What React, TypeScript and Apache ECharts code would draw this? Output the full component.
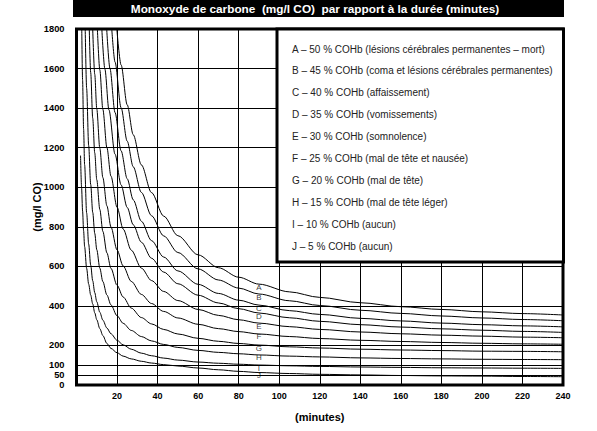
import React, { useEffect, useRef } from "react";
import * as echarts from "echarts";

const titleText = "Monoxyde de carbone  (mg/l CO)  par rapport à la durée (minutes)";
const yAxisName = "(mg/l CO)";
const xAxisName = "(minutes)";
const yTickValues = [0, 50, 100, 200, 400, 600, 800, 1000, 1200, 1400, 1600, 1800];
const xMin = 0;
const xMax = 240;
const xInterval = 20;

const curveLetters = ["A", "B", "C", "D", "E", "F", "G", "H", "I", "J"];
const legendLines = [
  "A – 50 % COHb (lésions cérébrales permanentes – mort)",
  "B – 45 % COHb (coma et lésions cérébrales permanentes)",
  "C – 40 % COHb (affaissement)",
  "D – 35 % COHb (vomissements)",
  "E – 30 % COHb (somnolence)",
  "F – 25 % COHb (mal de tête et nausée)",
  "G – 20 % COHb (mal de tête)",
  "H – 15 % COHb (mal de tête léger)",
  "I – 10 % COHb (aucun)",
  "J – 5 % COHb (aucun)",
];

// [minutes, mg/l CO]
const curveA = [[19.9, 1800], [22, 1618], [25, 1417], [28, 1265], [32, 1113], [37, 973], [43, 854], [50, 755], [60, 658], [70, 593], [80, 545], [90, 510], [105, 471], [120, 443], [140, 416], [160, 396], [180, 382], [200, 370], [220, 361], [240, 354]];
const curveB = [[17.4, 1800], [19, 1633], [22, 1402], [25, 1233], [28, 1103], [32, 974], [37, 856], [43, 754], [50, 670], [60, 587], [70, 531], [80, 490], [90, 460], [105, 426], [120, 402], [140, 378], [160, 362], [180, 349], [200, 339], [220, 331], [240, 325]];
const curveC = [[14.9, 1800], [16.5, 1600], [19, 1378], [22, 1184], [25, 1043], [28, 936], [32, 828], [37, 730], [43, 647], [50, 577], [60, 509], [70, 463], [80, 429], [90, 404], [105, 376], [120, 357], [140, 337], [160, 324], [180, 313], [200, 305], [220, 299], [240, 294]];
const curveD = [[12.5, 1800], [14, 1597], [16, 1391], [19, 1167], [22, 1012], [25, 898], [28, 810], [32, 722], [37, 641], [43, 571], [50, 512], [60, 454], [70, 415], [80, 386], [90, 364], [105, 340], [120, 322], [140, 305], [160, 293], [180, 284], [200, 277], [220, 271], [240, 266]];
const curveE = [[10.3, 1800], [11.5, 1593], [13, 1394], [15, 1200], [17, 1056], [20, 899], [23, 789], [27, 682], [32, 591], [37, 528], [43, 473], [50, 427], [60, 382], [70, 352], [80, 330], [90, 313], [105, 295], [120, 281], [140, 268], [160, 259], [180, 252], [200, 247], [220, 242], [240, 239]];
const curveF = [[8, 1800], [9, 1571], [10, 1396], [11.5, 1197], [13, 1049], [15, 906], [17, 799], [20, 683], [23, 602], [27, 524], [32, 458], [37, 412], [43, 372], [50, 339], [60, 307], [70, 285], [80, 270], [90, 258], [105, 245], [120, 235], [140, 226], [160, 220], [180, 215], [200, 211], [220, 208], [240, 206]];
const curveG = [[6.3, 1800], [7, 1580], [8, 1349], [9, 1173], [10, 1038], [11.5, 888], [13, 777], [15, 668], [17, 590], [20, 504], [23, 445], [27, 389], [32, 341], [37, 309], [43, 281], [50, 258], [60, 236], [70, 221], [80, 210], [90, 202], [105, 193], [120, 187], [140, 181], [160, 177], [180, 174], [200, 171], [220, 170], [240, 168]];
const curveH = [[4.3, 1800], [5, 1500], [6, 1211], [7, 1014], [8, 873], [9, 767], [10, 684], [11.5, 591], [13, 523], [15, 455], [17, 405], [20, 350], [23, 312], [27, 276], [32, 245], [37, 223], [43, 205], [50, 190], [60, 175], [70, 165], [80, 158], [90, 152], [105, 146], [120, 142], [140, 137], [160, 134], [180, 132], [200, 130], [220, 129], [240, 128]];
const curveI = [[2.6, 1800], [3, 1543], [3.5, 1295], [4, 1114], [5, 870], [6, 713], [7, 606], [8, 527], [9, 467], [10, 421], [11.5, 368], [13, 328], [15, 288], [17, 259], [20, 226], [23, 203], [27, 181], [32, 161], [37, 148], [43, 136], [50, 126], [60, 116], [70, 110], [80, 105], [90, 101], [105, 97], [120, 94], [140, 91], [160, 89], [180, 87], [200, 86], [220, 85], [240, 84]];
const curveJ = [[2, 1160], [2.5, 1000], [3, 880], [3.5, 780], [4, 700], [5, 590], [6, 510], [7, 455], [8, 410], [9, 365], [10, 330], [11.5, 285], [13, 250], [15, 210], [17, 185], [20, 163], [23, 146], [27, 132], [32, 120], [37, 111], [43, 103], [50, 96], [60, 86], [70, 77], [80, 69], [90, 63], [105, 58], [120, 54], [140, 51], [160, 48], [180, 46], [200, 45], [220, 43], [240, 42]];
const curves = [curveA, curveB, curveC, curveD, curveE, curveF, curveG, curveH, curveI, curveJ];
const labelMinute = 90;

export default function App() {
  const ref = useRef<HTMLDivElement>(null);
  useEffect(() => {
    if (!ref.current) return;
    const chart = echarts.init(ref.current, undefined, { renderer: "svg" });
    const font = "'Liberation Sans', Arial, sans-serif";
    const labelPoints = curves.map((c, i) => {
      const p = c.find((d) => d[0] === labelMinute) as number[];
      return { value: [p[0], p[1]], label: { formatter: curveLetters[i] } };
    });
    const legendTop = 49;
    const legendStep = 21.9;
    chart.setOption({
      animation: false,
      backgroundColor: "#ffffff",
      grid: {
        left: 76.5,
        right: 34,
        top: 29,
        bottom: 46,
        show: true,
        borderColor: "#000",
        borderWidth: 3,
        backgroundColor: "transparent",
      },
      xAxis: {
        type: "value",
        min: xMin,
        max: xMax,
        interval: xInterval,
        name: xAxisName,
        nameLocation: "middle",
        nameGap: 26,
        nameMoveOverlap: false,
        nameTextStyle: { fontFamily: font, fontWeight: "bold", fontSize: 11, color: "#000" },
        axisLine: { show: false },
        axisTick: { show: false },
        axisLabel: {
          fontFamily: font,
          fontWeight: "bold",
          fontSize: 9,
          color: "#000",
          margin: 6,
          formatter: (v: number) => (v === 0 ? "" : String(v)),
        },
        splitLine: { show: true, lineStyle: { color: "#000", width: 1 } },
      },
      yAxis: {
        type: "value",
        min: 0,
        max: 1800,
        name: yAxisName,
        nameLocation: "middle",
        nameGap: 34,
        nameMoveOverlap: false,
        nameRotate: 90,
        nameTextStyle: { fontFamily: font, fontWeight: "bold", fontSize: 11, color: "#000" },
        axisLine: { show: false },
        axisTick: { show: false, customValues: yTickValues },
        axisLabel: {
          customValues: yTickValues,
          fontFamily: font,
          fontWeight: "bold",
          fontSize: 9.3,
          color: "#000",
          margin: 12,
          lineHeight: 9,
          formatter: (v: number) => String(v),
        },
        splitLine: { show: true, lineStyle: { color: "#000", width: 1 } },
      },
      series: [
        ...curves.map((c, i) => ({
          type: "line",
          name: curveLetters[i],
          data: c,
          showSymbol: false,
          symbol: "none",
          smooth: 0.3,
          smoothMonotone: "x",
          lineStyle: { color: "#000", width: 1 },
          clip: true,
          silent: true,
          z: 3,
        })),
        {
          type: "scatter",
          data: labelPoints,
          symbolSize: 1,
          itemStyle: { color: "rgba(0,0,0,0)" },
          label: {
            show: true,
            position: "bottom",
            distance: -1,
            fontFamily: font,
            fontSize: 8,
            lineHeight: 7,
            color: "#000",
          },
          silent: true,
          z: 4,
        },
      ],
      graphic: [
        {
          type: "rect",
          shape: { x: 73, y: 0, width: 491, height: 17 },
          style: { fill: "#000" },
          z: 10,
        },
        {
          type: "text",
          x: 315,
          y: 9,
          style: {
            text: titleText,
            fill: "#fff",
            font: `bold 11.8px ${font}`,
            align: "center",
            verticalAlign: "middle",
          },
          z: 11,
        },
        {
          type: "rect",
          shape: { x: 277, y: 29, width: 286.5, height: 233 },
          style: { fill: "#fff", stroke: "#000", lineWidth: 3 },
          z: 20,
        },
        ...legendLines.map((t, i) => ({
          type: "text",
          x: 292,
          y: legendTop + i * legendStep,
          style: {
            text: t,
            fill: "#222",
            font: `10px ${font}`,
            align: "left",
            verticalAlign: "middle",
          },
          z: 21,
        })),
      ],
    });
    return () => chart.dispose();
  }, []);
  return <div ref={ref} style={{ width: 597, height: 431, position: "absolute", left: 0, top: 0 }} />;
}
